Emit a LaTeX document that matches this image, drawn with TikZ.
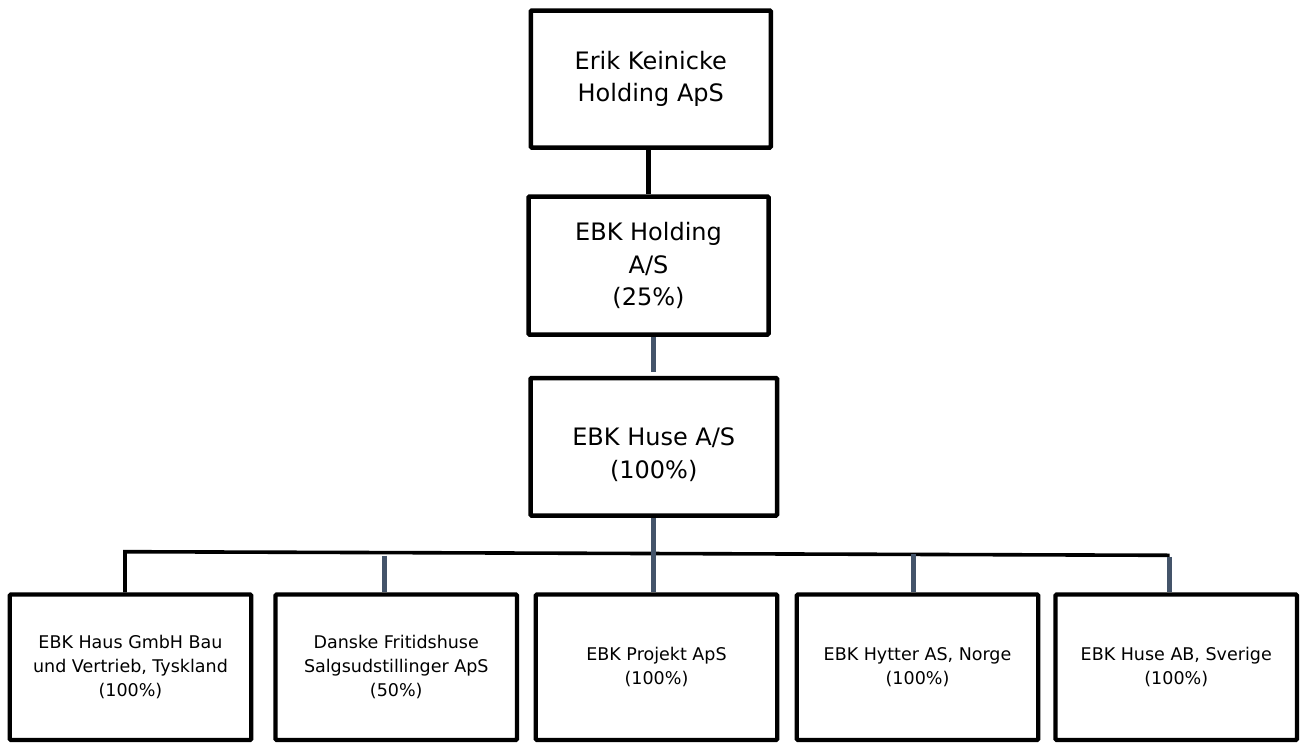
\documentclass[tikz,border=0pt]{standalone}
\usepackage{fontspec}
\setmainfont{DejaVu Sans}
\definecolor{linkgray}{HTML}{44546A}
\begin{document}
\begin{tikzpicture}[x=1pt,y=-1pt,
    topbox/.style={draw, line width=4.5pt, rounded corners=1pt, inner sep=0pt,
      minimum width=240pt, minimum height=137pt, align=center,
      font=\fontsize{24}{32.5}\selectfont},
    subbox/.style={draw, line width=4.2pt, rounded corners=1pt, inner sep=0pt,
      minimum width=241.5pt, minimum height=145.5pt, align=center,
      font=\fontsize{17.5}{24}\selectfont},
    blackline/.style={line width=4.5pt},
    grayline/.style={linkgray, line width=4.7pt},
    busline/.style={line width=3.6pt, line join=miter}]

    % Define the row heights and the bus end points
    \def\ysub{667.25}   % centre of the subsidiary row
    \def\ybusl{551.7}   % bus height at its left end
    \def\ybusr{555.3}   % bus height at its right end (slightly tilted)

    \useasboundingbox (0,0) rectangle (1304,742);

    % -- Ownership chain at the top --
    \node[topbox] (keinicke) at (650.75,79) {Erik Keinicke\\Holding ApS};
    \node[topbox, minimum height=138pt] (holding) at (648.5,265.5) {EBK Holding\\A/S\\(25\%)};
    \node[topbox, minimum width=246.5pt, minimum height=137.5pt] (huse) at (653.75,446.75) {};
    \node[font=\fontsize{24}{32.5}\selectfont, align=center] (husetext) at ([yshift=-8pt]huse.center) {EBK Huse A/S\\(100\%)};

    % -- Subsidiaries in one row --
    \node[subbox] (haus)    at (130.5,\ysub)  {EBK Haus GmbH Bau\\und Vertrieb, Tyskland\\(100\%)};
    \node[subbox] (fritid)  at (396.25,\ysub) {Danske Fritidshuse\\Salgsudstillinger ApS\\(50\%)};
    \node[subbox] (projekt) at (656.5,\ysub)  {EBK Projekt ApS\\(100\%)};
    \node[subbox] (hytter)  at (917.5,\ysub)  {EBK Hytter AS, Norge\\(100\%)};
    \node[subbox] (sverige) at (1176.25,\ysub) {EBK Huse AB, Sverige\\(100\%)};

    % -- Bus end points and drop points --
    \coordinate (busL) at (125,\ybusl);
    \coordinate (busR) at (1169.5,\ybusr);
    \coordinate (dropB) at (384.5,555.7);
    \coordinate (dropD) at (913.5,554);

    % -- Links between the top boxes --
    \draw[blackline] (keinicke.south -| holding.north) -- (holding.north);
    \draw[grayline] (holding.south -| huse.north) -- ([yshift=4pt]huse.north);

    % -- Bus with the black drop on the left --
    \draw[busline] (busL |- haus.north) -- (busL) -- (busR);

    % -- Gray drops to the subsidiaries --
    \draw[grayline] (huse.south) -- (huse.south |- projekt.north);
    \draw[grayline] (dropB) -- (dropB |- fritid.north);
    \draw[grayline] (dropD) -- (dropD |- hytter.north);
    \draw[grayline] ([yshift=-1.5pt]busR) -- (busR |- sverige.north);

\end{tikzpicture}
\end{document}
